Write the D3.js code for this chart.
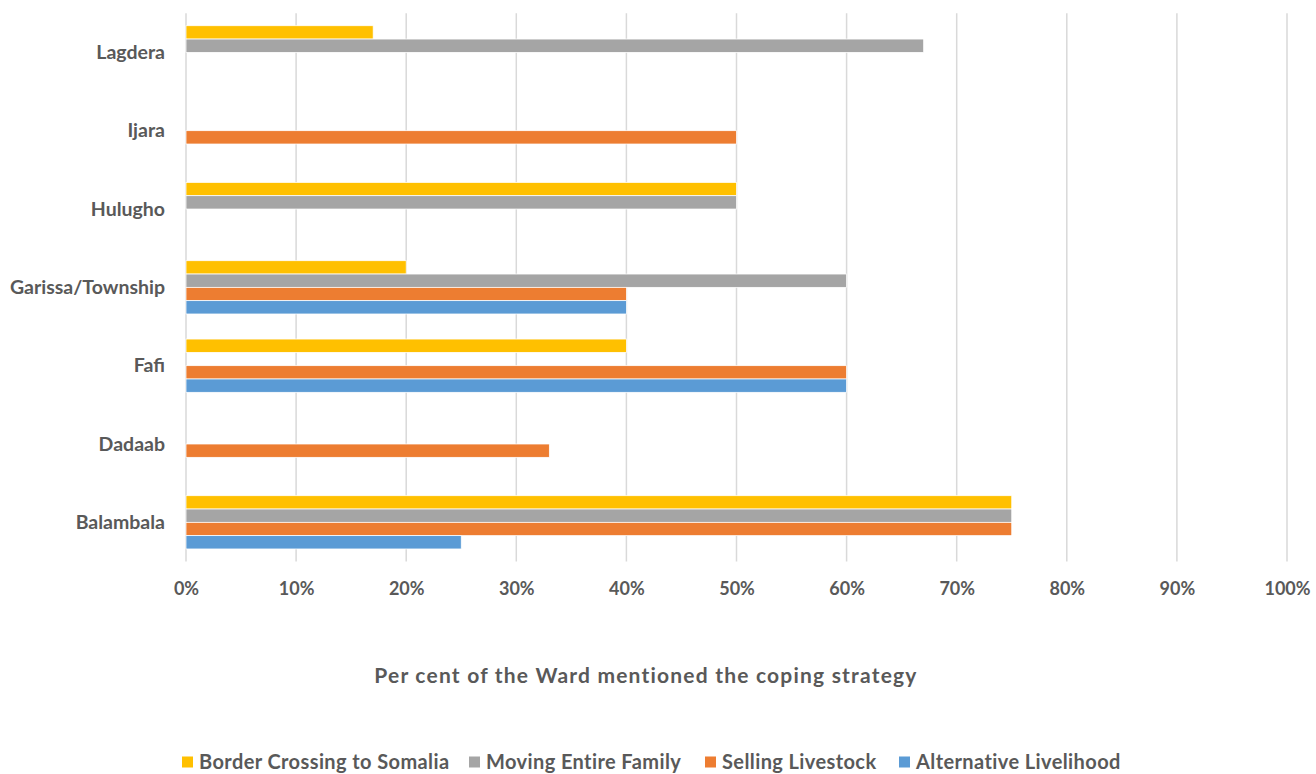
<!DOCTYPE html>
<html><head><meta charset="utf-8">
<script src="https://cdn.jsdelivr.net/npm/d3@7"></script>
<style>
body{margin:0;background:#fff;}
svg text{font-family:Lato,"Open Sans",sans-serif;font-weight:700;fill:#595959;}
</style></head>
<body><svg id="chart" width="1316" height="774"></svg>
<script>
const categories = ["Lagdera","Ijara","Hulugho","Garissa/Township","Fafi","Dadaab","Balambala"];
const seriesNames = ["Border Crossing to Somalia","Moving Entire Family","Selling Livestock","Alternative Livelihood"];
const seriesColors = ["#FFC000","#A5A5A5","#ED7D31","#5B9BD5"];
const borderCrossing = [0.17,0,0.50,0.20,0.40,0,0.75];
const movingFamily   = [0.67,0,0.50,0.60,0,0,0.75];
const sellingLivestock=[0,0.50,0,0.40,0.60,0.33,0.75];
const altLivelihood  = [0,0,0,0.40,0.60,0,0.25];
const tickValues = [0,0.1,0.2,0.3,0.4,0.5,0.6,0.7,0.8,0.9,1.0];
const axisTitle = "Per cent of the Ward mentioned the coping strategy";

const seriesValues = [borderCrossing,movingFamily,sellingLivestock,altLivelihood];
const svg = d3.select("#chart");
const pLeft=186, pRight=1287, pTop=13.2, pBottom=561.5;

const x = d3.scaleLinear().domain([0,1]).range([pLeft,pRight]);
const y = d3.scaleBand().domain(categories).range([pTop,pBottom]).paddingInner(0.32).paddingOuter(0.16);
const ySub = d3.scaleBand().domain(d3.range(seriesNames.length)).range([0,y.bandwidth()]);

// gridlines
svg.append("g").selectAll("line").data(tickValues).join("line")
  .attr("x1",d=>x(d)).attr("x2",d=>x(d)).attr("y1",pTop).attr("y2",pBottom)
  .attr("stroke","#D9D9D9").attr("stroke-width",1.5);

// bars
const rows=[];
categories.forEach((c,i)=>seriesValues.forEach((s,j)=>{ if(s[i]>0) rows.push({c,j,v:s[i]}); }));
svg.append("g").selectAll("rect").data(rows).join("rect")
  .attr("x",x(0)).attr("y",d=>y(d.c)+ySub(d.j))
  .attr("width",d=>x(d.v)-x(0)).attr("height",ySub.bandwidth())
  .attr("fill",d=>seriesColors[d.j]).attr("stroke","#fff").attr("stroke-width",0.75);

// x axis labels
const xAxis = d3.axisBottom(x).tickValues(tickValues).tickFormat(d3.format(".0%")).tickSize(0).tickPadding(0);
const gx = svg.append("g").attr("transform",`translate(0,${pBottom+27})`).call(xAxis);
gx.select(".domain").remove();
gx.selectAll("text").attr("font-size",18).attr("dy","0.36em").style("font-family","Lato,sans-serif").style("font-weight",700).style("fill","#595959");

// y axis labels
const yAxis = d3.axisLeft(y).tickSize(0).tickPadding(0);
const gy = svg.append("g").attr("transform",`translate(165,0)`).call(yAxis);
gy.select(".domain").remove();
gy.selectAll("text").attr("font-size",19.5).attr("dy","0.34em").style("font-family","Lato,sans-serif").style("font-weight",700).style("fill","#595959");

// axis title
svg.append("text").attr("x",646).attr("y",676).attr("text-anchor","middle").attr("dy","0.35em")
  .attr("font-size",21).attr("letter-spacing",1.2).text(axisTitle);

// legend
const legendX=[182,469,705,899];
const lg = svg.append("g").selectAll("g").data(seriesNames).join("g")
  .attr("transform",(d,i)=>`translate(${legendX[i]},762)`);
lg.append("rect").attr("x",0).attr("y",-5.5).attr("width",11).attr("height",11).attr("fill",(d,i)=>seriesColors[i]);
lg.append("text").attr("x",17).attr("dy","0.35em").attr("font-size",20).attr("letter-spacing",0.4).text(d=>d);
</script></body></html>
